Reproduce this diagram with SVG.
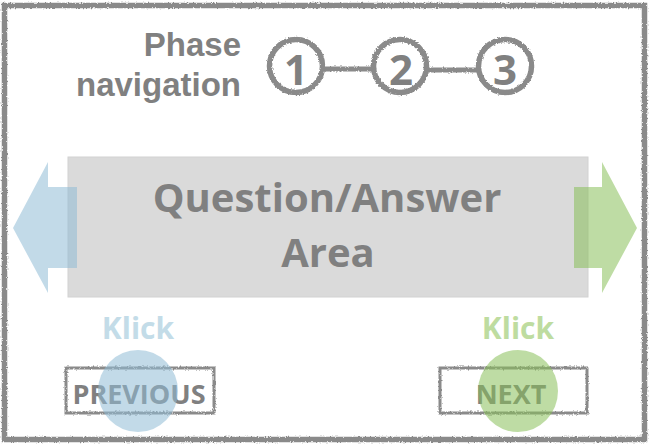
<svg xmlns="http://www.w3.org/2000/svg" width="650" height="445" viewBox="0 0 650 445">
  <defs>
    <filter id="rough" filterUnits="userSpaceOnUse" x="-10" y="-10" width="670" height="465">
      <feTurbulence type="fractalNoise" baseFrequency="0.6" numOctaves="2" seed="3" result="n"/>
      <feDisplacementMap in="SourceGraphic" in2="n" scale="3" xChannelSelector="R" yChannelSelector="G"/>
    </filter>
  </defs>
  <style>
    text { font-family: "Open Sans", "Liberation Sans", sans-serif; font-weight: bold; }
    .lbl { fill: #808080; }
    .phase { font-family: "Liberation Sans", "Open Sans", sans-serif; font-size: 33px; }
    .sketch { fill: none; stroke: #8a8a8a; filter: url(#rough); }
    .bar { fill: #8a8a8a; stroke: none; filter: url(#rough); }
    .blue { fill: #8fbcd6; fill-opacity: 0.55; }
    .green { fill: #88c05a; fill-opacity: 0.55; }
  </style>
  <rect x="0" y="0" width="650" height="445" fill="#ffffff"/>

  <g id="frame">
    <rect class="sketch" x="4.5" y="5.5" width="640" height="434" stroke-width="5.5"/>
  </g>

  <g id="phase-label">
    <text class="lbl phase" x="241" y="56" text-anchor="end">Phase</text>
    <text class="lbl phase" x="241" y="96" text-anchor="end">navigation</text>
  </g>

  <g id="connectors">
    <rect class="bar" x="322" y="66.5" width="52" height="5"/>
    <rect class="bar" x="426" y="67.5" width="53" height="5"/>
  </g>

  <g id="phase1">
    <circle class="sketch" cx="296" cy="66" r="26.5" stroke-width="5.5"/>
    <text class="lbl" x="296" y="85" font-size="42" text-anchor="middle">1</text>
  </g>
  <g id="phase2">
    <circle class="sketch" cx="400" cy="66" r="26.5" stroke-width="5.5"/>
    <text class="lbl" x="401" y="85" font-size="42" text-anchor="middle">2</text>
  </g>
  <g id="phase3">
    <circle class="sketch" cx="505" cy="66" r="26.5" stroke-width="5.5"/>
    <text class="lbl" x="505" y="85" font-size="42" text-anchor="middle">3</text>
  </g>

  <g id="qa-area">
    <rect x="68" y="157" width="520" height="140" fill="#dadada" stroke="#d2d2d2" stroke-width="1"/>
    <text class="lbl" x="327" y="212" font-size="40" text-anchor="middle">Question/Answer</text>
    <text class="lbl" x="328" y="267" font-size="40" text-anchor="middle">Area</text>
  </g>

  <g id="arrow-prev">
    <polygon class="blue" points="77,187 48,187 48,162 13,228 48,293 48,268 77,268"/>
  </g>
  <g id="arrow-next">
    <polygon class="green" points="574,187 602,187 602,162 637,228 602,293 602,268 574,268"/>
  </g>

  <g id="btn-previous">
    <text x="138" y="339" font-size="30" text-anchor="middle" fill="#c3dce8">Klick</text>
    <rect class="sketch" x="66" y="368" width="148" height="45" stroke-width="3"/>
    <text class="lbl" x="139" y="404" font-size="27" text-anchor="middle">PREVIOUS</text>
    <ellipse class="blue" cx="138" cy="391" rx="40" ry="41"/>
  </g>

  <g id="btn-next">
    <text x="518" y="339" font-size="30" text-anchor="middle" fill="#bedca0">Klick</text>
    <rect class="sketch" x="440" y="368" width="147" height="45" stroke-width="3"/>
    <text class="lbl" x="511" y="404" font-size="27" text-anchor="middle">NEXT</text>
    <ellipse class="green" cx="518" cy="391" rx="40" ry="41"/>
  </g>
</svg>
